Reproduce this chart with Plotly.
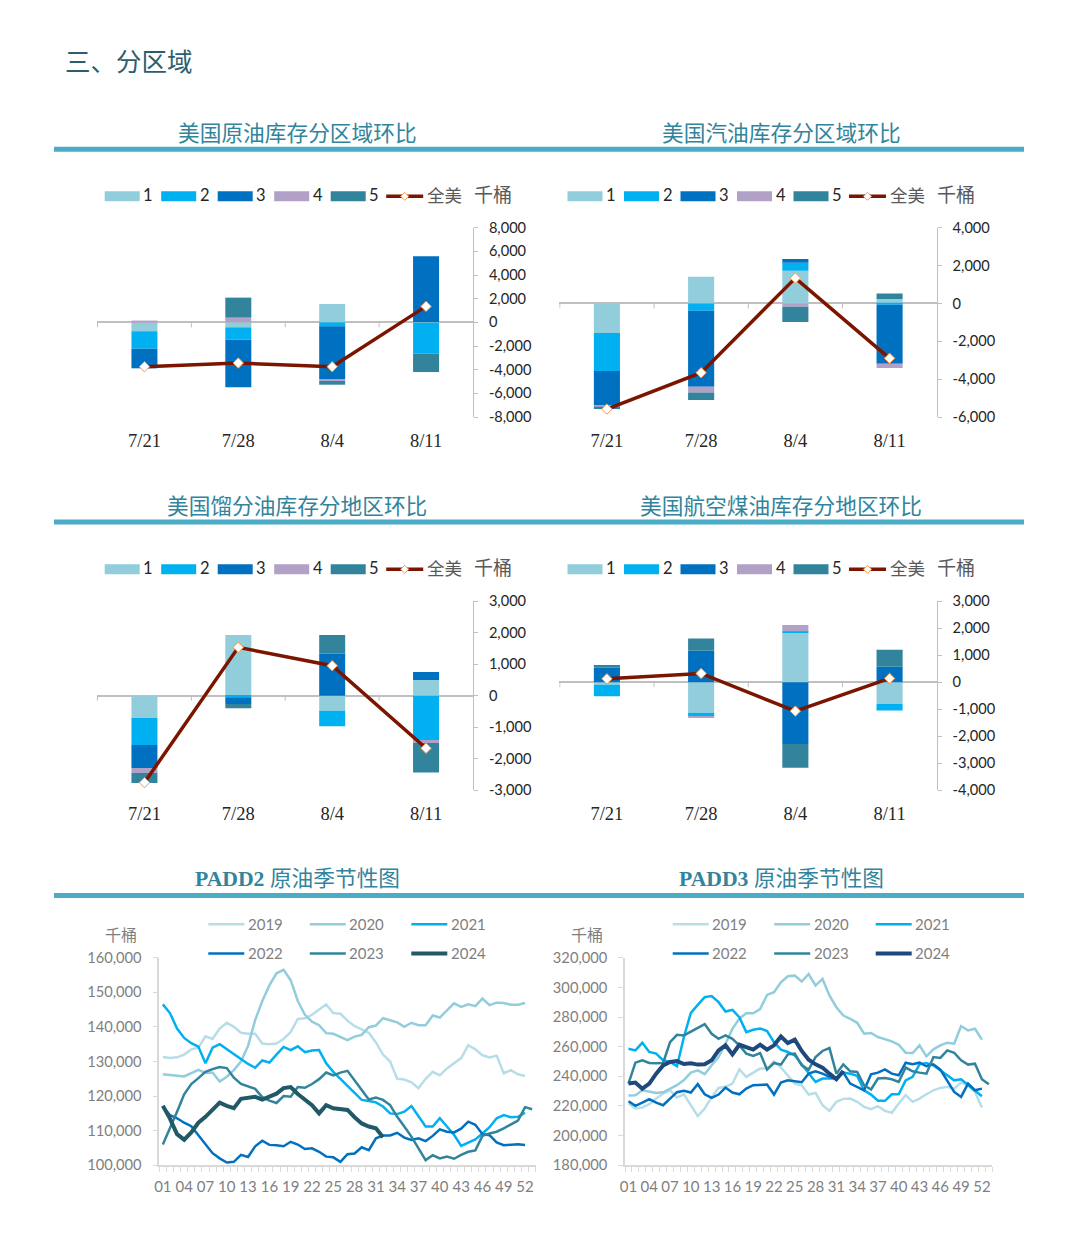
import plotly.graph_objects as go

W = 1080
H = 1239

# bar panels: weekly change by region, thousand barrels
dates = ['7/21', '7/28', '8/4', '8/11']
regions = ['1', '2', '3', '4', '5']

crude_1 = [-750, -420, 1550, -50]
crude_2 = [-1475, -1045, -340, -2580]
crude_3 = [-1660, -4030, -4450, 5580]
crude_4 = [150, 400, -170, 0]
crude_5 = [0, 1690, -310, -1570]
crude_all = [-3750, -3440, -3750, 1350]
crude_ticks = [-8000, -6000, -4000, -2000, 0, 2000, 4000, 6000, 8000]

gasoline_1 = [-1567, 1408, 1725, 230]
gasoline_2 = [-2007, -387, 420, -70]
gasoline_3 = [-1813, -4013, 195, -3116]
gasoline_4 = [-106, -300, -175, -230]
gasoline_5 = [-90, -405, -810, 300]
gasoline_all = [-5580, -3660, 1340, -2900]
gasoline_ticks = [-6000, -4000, -2000, 0, 2000, 4000]

distillate_1 = [-707, 1922, -475, 496]
distillate_2 = [-855, -50, -496, -1436]
distillate_3 = [-729, -211, 1330, 253]
distillate_4 = [-158, 0, 0, -63]
distillate_5 = [-317, -137, 591, -940]
distillate_all = [-2756, 1531, 950, -1668]
distillate_ticks = [-3000, -2000, -1000, 0, 1000, 2000, 3000]

jet_1 = [-100, -1134, 1824, -813]
jet_2 = [-420, -123, 62, -234]
jet_3 = [530, 1158, -2292, 567]
jet_4 = [0, -62, 222, 0]
jet_5 = [100, 456, -875, 628]
jet_all = [123, 320, -1072, 136]
jet_ticks = [-4000, -3000, -2000, -1000, 0, 1000, 2000, 3000]

# seasonal panels: weekly stocks, thousand barrels
weeks = list(range(1, 54))
week_ticks = list(range(1, 53, 3))
years = ['2019', '2020', '2021', '2022', '2023', '2024']

padd2_2019 = [131300, 131000, 131200, 132000, 133500, 134000, 137300, 136500, 139500, 141200,
              140000, 138300, 138000, 138000, 135200, 135000, 135200, 136500, 138500, 142300,
              142500, 143500, 145000, 146500, 144000, 143800, 141800, 140200, 139300, 138300,
              135500, 132000, 130000, 125000, 124800, 124000, 122300, 125000, 127000, 126000,
              128000, 129500, 131000, 134700, 133500, 131800, 131200, 131700, 126600, 127500,
              126300, 125800]
padd2_2020 = [126300, 126200, 125900, 125700, 126700, 127600, 126700, 126800, 124200, 125600,
              127500, 130000, 134500, 142000, 147500, 152000, 155500, 156500, 153500, 147500,
              143500, 141500, 140500, 138200, 138000, 137000, 136200, 137200, 137700, 139900,
              140400, 142500, 142000, 141300, 140000, 141200, 140500, 140500, 143300, 142700,
              144800, 146800, 145800, 146500, 146000, 148200, 146300, 147000, 146900, 146400,
              146400, 146900]
padd2_2021 = [146500, 144000, 139500, 136800, 135300, 134300, 129500, 134000, 135000, 133500,
              132000, 130700, 129300, 128200, 130300, 129700, 132000, 134200, 133300, 134400,
              132700, 133200, 133300, 129500, 127000, 125000, 123200, 121000, 118900, 118600,
              118200, 117000, 115000, 114800, 115500, 117100, 114000, 111200, 111200, 113600,
              111200, 108800, 105600, 106500, 107500, 109200, 111000, 113600, 114500, 113900,
              114000, 115200]
padd2_2022 = [117000, 114500, 113600, 112300, 111300, 108700, 106000, 103500, 102000, 100800,
              101000, 103000, 102400, 105500, 107100, 105900, 105800, 105500, 106800, 106000,
              104700, 104900, 103900, 102500, 102300, 101000, 103200, 103400, 105200, 104400,
              107800, 108600, 108600, 109400, 108000, 107300, 107800, 107000, 108500, 110400,
              109700, 109500, 110600, 112600, 111700, 109000, 108700, 106600, 105800, 105900,
              106100, 105900]
padd2_2023 = [106000, 110500, 115500, 120500, 123500, 125200, 127000, 127800, 128400, 128100,
              125300, 123500, 122700, 122100, 119700, 118700, 118000, 120000, 119800, 122600,
              122400, 123500, 124900, 126800, 126000, 126800, 127300, 124600, 121800, 119000,
              119600, 118900, 117400, 114000, 111200, 108300, 104900, 101500, 102900, 102000,
              102500, 101900, 103000, 103900, 104300, 108500, 109200, 109700, 110700, 111900,
              112900, 116800, 116200]
padd2_2024 = [117200, 113500, 109000, 107400, 109500, 112300, 114000, 116000, 118100, 117200,
              116500, 119200, 119500, 119800, 119000, 119800, 120700, 122300, 122600, 120600,
              119000, 117400, 115000, 117400, 116500, 116200, 116000, 113900, 112100, 111200,
              110700, 108100]
padd2_ticks = [100000, 110000, 120000, 130000, 140000, 150000, 160000]

padd3_2019 = [221700, 218300, 219000, 221200, 225000, 228400, 230600, 225700, 227900, 220500,
              213200, 218300, 226000, 232200, 232900, 235100, 244700, 239600, 242500, 245200,
              245200, 250000, 246000, 240300, 235100, 234000, 227700, 228800, 220500, 216700,
              222800, 224800, 225000, 222800, 219400, 217900, 219900, 216700, 215400, 221700,
              227300, 222800, 225000, 227900, 230600, 232200, 232900, 231700, 235800, 234000,
              229500, 219000]
padd3_2020 = [227000, 227300, 230600, 229500, 228800, 229200, 231500, 234000, 237500, 242500,
              244000, 241500, 247500, 253000, 262000, 272000, 279000, 282500, 282500, 285400,
              294900, 296700, 303400, 307500, 307900, 303900, 309000, 301200, 305700, 294500,
              286600, 281000, 278800, 276100, 268700, 269200, 266500, 264900, 263600, 261300,
              255900, 255700, 260900, 253500, 258200, 260900, 262700, 262000, 273900, 270900,
              272100, 264700]
padd3_2021 = [258600, 257500, 262700, 256400, 255300, 250800, 249700, 246800, 266500, 282800,
              288200, 293400, 294200, 290000, 283700, 284800, 279900, 269800, 271400, 272300,
              270500, 263000, 258000, 256400, 254100, 248100, 241800, 236200, 238500, 238500,
              238500, 242500, 241800, 240300, 230600, 227700, 223500, 223500, 227900, 227900,
              237300, 239600, 248100, 249000, 247400, 244100, 240700, 237300, 238000, 234000,
              230600, 226600]
padd3_2022 = [223200, 220100, 222300, 224600, 222300, 220500, 225000, 229300, 230200, 229100,
              234700, 227900, 225500, 227700, 232400, 229100, 227900, 231700, 234000, 234000,
              234400, 227700, 235800, 237300, 236700, 236000, 241800, 243400, 241800, 239600,
              238500, 242500, 235100, 232900, 230600, 241400, 242500, 244700, 241800, 240700,
              249200, 248100, 249200, 246800, 248100, 244500, 237300, 229500, 226100, 235100,
              230600, 231700]
padd3_2023 = [235100, 249200, 250800, 249000, 248800, 249000, 263100, 268000, 267600, 270300,
              272700, 275200, 268700, 265300, 267600, 265300, 260900, 255300, 253700, 255700,
              244500, 249000, 247900, 254800, 255300, 247400, 244500, 253000, 257100, 259100,
              241800, 248100, 243400, 242900, 234000, 231100, 238500, 238900, 238000, 236200,
              245900, 243400, 242500, 241800, 253000, 252400, 257500, 255900, 250800, 247900,
              248500, 238000, 234700]
padd3_2024 = [235100, 235800, 231700, 235100, 241800, 247400, 249700, 250300, 248300, 248800,
              247900, 248100, 250800, 257500, 260900, 254800, 261300, 259300, 258000, 261300,
              258000, 260900, 266900, 262400, 264700, 257100, 251200, 248100, 245900, 241800,
              238000, 243600]
padd3_ticks = [180000, 200000, 220000, 240000, 260000, 280000, 300000, 320000]

bar_colors = ['#92CDDC', '#00B0F0', '#0070C0', '#B2A1C7', '#31849B']
line_color = '#7B1500'
marker_edge = '#F79646'
year_colors = ['#B7DEE8', '#92CDDC', '#00B0F0', '#0070C0', '#31849B']
cjk = 'Noto Sans CJK SC'
latin = 'Lato'
serif = 'Liberation Serif'

fig = go.Figure()
shapes = []
notes = []


def px(x):
    return x / W


def py(y):
    return 1 - y / H


def text(x, y, s, size, color, family=cjk, anchor='left'):
    notes.append(dict(x=px(x), y=py(y), xref='paper', yref='paper', text=s, showarrow=False,
                      xanchor=anchor, yanchor='middle', borderpad=0,
                      font=dict(size=size, color=color, family=family)))


def hline(x0, x1, y, color, width):
    shapes.append(dict(type='line', xref='paper', yref='paper', x0=px(x0), x1=px(x1),
                       y0=py(y), y1=py(y), line=dict(color=color, width=width)))


def bar_legend(x0, y):
    for i, name in enumerate(regions):
        left = x0 + i * 56.5
        shapes.append(dict(type='rect', xref='paper', yref='paper', x0=px(left), x1=px(left + 35),
                           y0=py(y - 5), y1=py(y + 5), fillcolor=bar_colors[i], line=dict(width=0)))
        text(left + 37.5, y - 1, name, 16.5, '#262626', latin)
    lx = x0 + 281.5
    hline(lx, lx + 37, y, line_color, 3.5)
    mx = px(lx + 18.5)
    shapes.append(dict(type='path', xref='paper', yref='paper', fillcolor='white',
                       line=dict(color=marker_edge, width=1),
                       path=f'M{mx},{py(y - 4)} L{px(lx + 22.5)},{py(y)} L{mx},{py(y + 4)} '
                            f'L{px(lx + 14.5)},{py(y)} Z'))
    text(lx + 40, y - 2, '全美', 17.5, '#595959')
    text(lx + 87, y - 2.5, '千桶', 19, '#595959')


def bar_panel(n, left, right, top, bottom, series, total, ticks):
    xname, yname = ('x', 'y') if n == 1 else (f'x{n}', f'y{n}')
    for i, vals in enumerate(series):
        fig.add_trace(go.Bar(x=dates, y=vals, name=regions[i], marker_color=bar_colors[i],
                             marker_line_width=0, width=0.277, xaxis=xname, yaxis=yname,
                             showlegend=False))
    fig.add_trace(go.Scatter(x=dates, y=total, name='全美', mode='lines+markers', xaxis=xname,
                             yaxis=yname, line=dict(color=line_color, width=3.5), showlegend=False,
                             marker=dict(symbol='diamond', size=8, color='white',
                                         line=dict(color=marker_edge, width=1))))
    fig.update_layout({
        f'xaxis{n}': dict(domain=[px(left), px(right)], anchor=yname, type='category',
                          categoryorder='array', categoryarray=dates, showline=False, showgrid=False,
                          ticks='', ticklabelstandoff=10,
                          tickfont=dict(size=18.5, color='#262626', family=serif)),
        f'yaxis{n}': dict(domain=[py(bottom), py(top)], anchor=xname, side='right',
                          range=[ticks[0], ticks[-1]], tickvals=ticks,
                          ticktext=[f'{v:,}' for v in ticks], showgrid=False, zeroline=True,
                          zerolinecolor='#BFBFBF', zerolinewidth=1.5, showline=True,
                          linecolor='#BFBFBF', linewidth=1, ticks='outside', ticklen=4,
                          tickcolor='#BFBFBF', ticklabelstandoff=8,
                          tickfont=dict(size=14.6, color='#262626', family=latin)),
    })
    for b in (-0.5, 0.5, 1.5, 2.5):
        shapes.append(dict(type='line', xref=xname, yref=yname, ysizemode='pixel', yanchor=0,
                           x0=b, x1=b, y0=0, y1=-5, line=dict(color='#BFBFBF', width=1)))


def season_panel(n, left, right, top, bottom, series, ticks, last_color):
    xname, yname = f'x{n}', f'y{n}'
    colors = year_colors + [last_color]
    for i, vals in enumerate(series):
        fig.add_trace(go.Scatter(x=weeks[:len(vals)], y=vals, name=years[i], mode='lines',
                                 xaxis=xname, yaxis=yname, showlegend=False,
                                 line=dict(color=colors[i], width=4 if i == 5 else 2.5)))
    fig.update_layout({
        f'xaxis{n}': dict(domain=[px(left), px(right)], anchor=yname, range=[0.5, 53.5],
                          tickvals=week_ticks, ticktext=[f'{w:02d}' for w in week_ticks],
                          showgrid=False, zeroline=False, showline=True, linecolor='#D9D9D9',
                          linewidth=1.5, ticks='', ticklabelstandoff=7,
                          minor=dict(tickmode='linear', tick0=0.5, dtick=1, ticks='outside',
                                     ticklen=5, tickcolor='#D9D9D9', showgrid=False),
                          tickfont=dict(size=15, color='#7F7F7F', family=latin)),
        f'yaxis{n}': dict(domain=[py(bottom), py(top)], anchor=xname,
                          range=[ticks[0], ticks[-1]], tickvals=ticks,
                          ticktext=[f'{v:,}' for v in ticks], showgrid=False, zeroline=False,
                          showline=True, linecolor='#D9D9D9', linewidth=1.5, ticks='outside',
                          ticklen=5, tickcolor='#D9D9D9', ticklabelstandoff=8,
                          tickfont=dict(size=14.7, color='#7F7F7F', family=latin)),
    })
    # legend, three columns on two rows
    lx = 208.3 if n == 5 else 672.7
    for i, name in enumerate(years):
        col = i % 3
        row_y = (924.3 if i < 3 else 953.5)
        x0 = lx + col * 101.5
        hline(x0, x0 + 36, row_y, colors[i], 4 if i == 5 else 2.5)
        text(x0 + 38.5, row_y - 0.5, name, 15, '#7F7F7F', latin)


bar_panel(1, 97, 473, 227.7, 417, [crude_1, crude_2, crude_3, crude_4, crude_5], crude_all, crude_ticks)
bar_panel(2, 559.3, 936.7, 227.7, 417,
          [gasoline_1, gasoline_2, gasoline_3, gasoline_4, gasoline_5], gasoline_all, gasoline_ticks)
bar_panel(3, 97, 473, 601, 790.3,
          [distillate_1, distillate_2, distillate_3, distillate_4, distillate_5], distillate_all,
          distillate_ticks)
bar_panel(4, 559.3, 936.7, 601, 790.3, [jet_1, jet_2, jet_3, jet_4, jet_5], jet_all, jet_ticks)
season_panel(5, 159.3, 535.7, 957.7, 1165.3,
             [padd2_2019, padd2_2020, padd2_2021, padd2_2022, padd2_2023, padd2_2024],
             padd2_ticks, '#215967')
season_panel(6, 625, 992.3, 957.7, 1165.3,
             [padd3_2019, padd3_2020, padd3_2021, padd3_2022, padd3_2023, padd3_2024],
             padd3_ticks, '#1F497D')

bar_legend(104.7, 196.3)
bar_legend(567.5, 196.3)
bar_legend(104.7, 569.3)
bar_legend(567.5, 569.3)

# headings and rules
text(64, 60, '三、分区域', 25.5, '#2B5F70')
title_color = '#31849B'
text(297, 131, '美国原油库存分区域环比', 21.7, title_color, anchor='center')
text(781, 131, '美国汽油库存分区域环比', 21.7, title_color, anchor='center')
text(297, 504.5, '美国馏分油库存分地区环比', 21.7, title_color, anchor='center')
text(781, 504.5, '美国航空煤油库存分地区环比', 21.7, title_color, anchor='center')
text(297, 879, '<b>PADD2</b> 原油季节性图', 21.7, title_color, f'{serif}, {cjk}', anchor='center')
text(781, 879, '<b>PADD3</b> 原油季节性图', 21.7, title_color, f'{serif}, {cjk}', anchor='center')
for rule_y in (149.3, 522, 895.5):
    hline(54, 1024, rule_y, '#4BACC6', 5)
text(121, 934, '千桶', 16, '#7F7F7F', anchor='center')
text(586.7, 933.5, '千桶', 16, '#7F7F7F', anchor='center')

fig.update_layout(width=W, height=H, margin=dict(l=0, r=0, t=0, b=0, autoexpand=False), barmode='relative',
                  plot_bgcolor='white', paper_bgcolor='white', showlegend=False,
                  shapes=shapes, annotations=notes, hovermode='closest')

fig.write_html("out.html", config=dict(displayModeBar=False),
               post_script="document.body.style.margin='0'")
